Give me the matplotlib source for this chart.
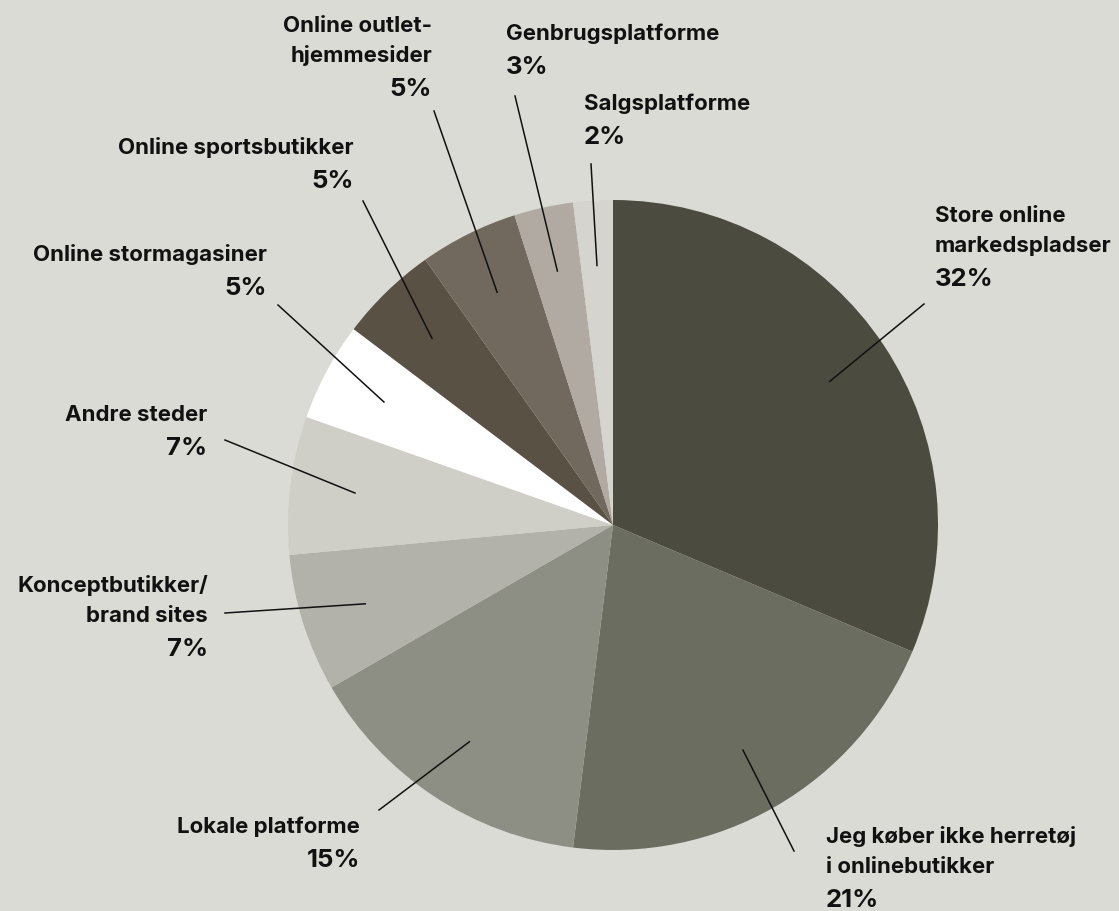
import matplotlib.pyplot as plt
import numpy as np

# andel af svar per kanal, med uret fra toppen
kanaler = ["Store online\nmarkedspladser", "Jeg køber ikke herretøj\ni onlinebutikker",
           "Lokale platforme", "Konceptbutikker/\nbrand sites", "Andre steder",
           "Online stormagasiner", "Online sportsbutikker", "Online outlet-\nhjemmesider",
           "Genbrugsplatforme", "Salgsplatforme"]
andele = [32, 21, 15, 7, 7, 5, 5, 5, 3, 2]
farver = ["#4b4c3f", "#6b6d60", "#8d8e84", "#b2b2aa", "#cfcfc8",
          "#ffffff", "#5a5145", "#71695d", "#b1aaa3", "#d6d4cf"]

# tekstplacering (pixel, y fra toppen): x, første grundlinje, justering, linjens yderpunkt
tekst_x = [935, 826, 360, 208, 207, 267, 354, 432, 506, 584]
tekst_y = [222, 843, 833, 592, 421, 261, 154, 32, 40, 110]
tekst_ha = ["left", "left", "right", "right", "right", "right", "right", "right", "left", "left"]
linje_ud = [(924, 304), (794, 851), (379, 810), (225, 613), (225, 440),
            (278, 305), (363, 201), (434, 111), (515, 96), (591, 164)]

W, H = 1119, 911
bg = "#dbdbd6"
plt.rcParams["font.family"] = ["Inter", "DejaVu Sans"]

fig = plt.figure(figsize=(W / 100, H / 100), dpi=100, facecolor=bg)
ax = fig.add_axes([0, 0, 1, 1])

cx, cy, r = 613, H - 525, 325
wedges, _ = ax.pie(andele, colors=farver, startangle=90, counterclock=False,
                   center=(cx, cy), radius=r, frame=True,
                   wedgeprops=dict(linewidth=0))
ax.set_xlim(0, W)
ax.set_ylim(0, H)
ax.set_aspect("equal")
ax.axis("off")

for i, w in enumerate(wedges):
    # ledelinje fra skivens midtervinkel ud til teksten
    mid = np.deg2rad((w.theta1 + w.theta2) / 2)
    ix, iy = cx + 0.8 * r * np.cos(mid), cy + 0.8 * r * np.sin(mid)
    ox, oy = linje_ud[i]
    ax.plot([ix, ox], [iy, H - oy], color="#111111", lw=1.1)

    linjer = kanaler[i].split("\n")
    y = tekst_y[i]
    for j, t in enumerate(linjer):
        ax.text(tekst_x[i], H - y - j * 30, t, ha=tekst_ha[i], va="baseline",
                fontsize=16, fontweight="bold", color="#111111")
    yp = y + (len(linjer) - 1) * 30 + 34
    ax.text(tekst_x[i], H - yp, f"{andele[i]}%", ha=tekst_ha[i], va="baseline",
            fontsize=18.5, fontweight="bold", color="#111111")

fig.savefig("out.png", dpi=100, facecolor=bg)
